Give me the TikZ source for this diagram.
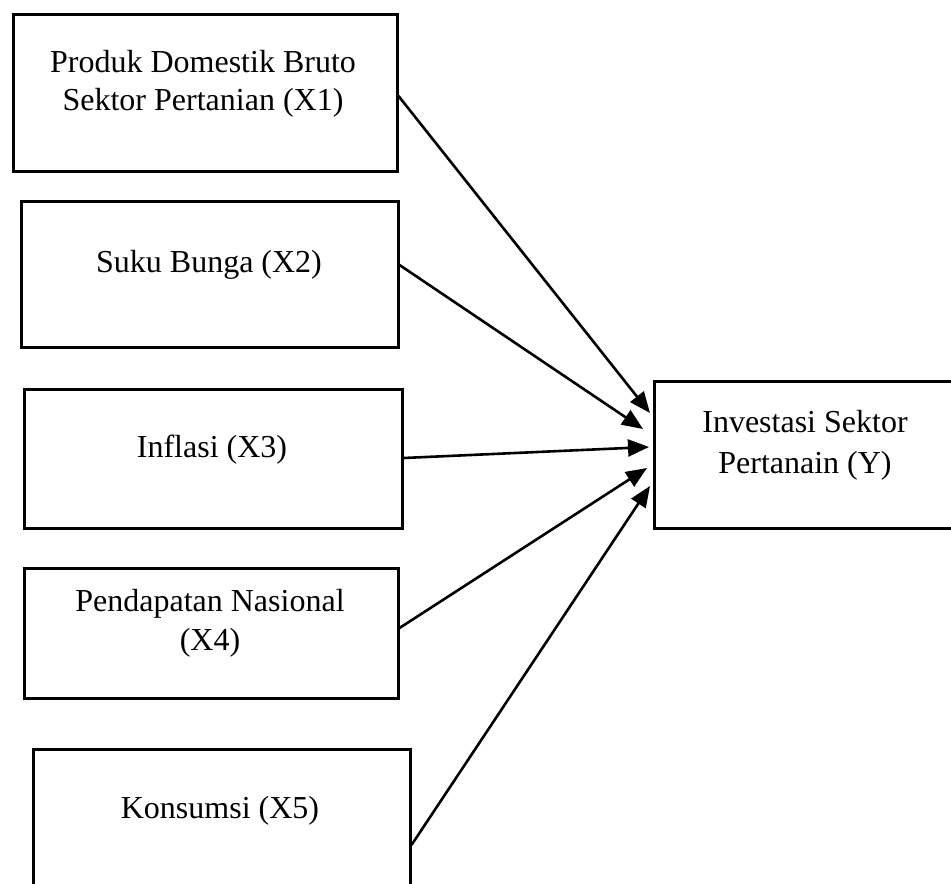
\documentclass[tikz,border=0pt]{standalone}
\usepackage{fontspec}
\setmainfont{Liberation Serif}
\usetikzlibrary{arrows.meta,calc}
\begin{document}
\begin{tikzpicture}[x=1pt,y=-1pt,
  box/.style={draw=black,line width=2.5pt,rectangle,inner sep=0pt,anchor=north west},
  lbl/.style={font=\fontsize{32}{39}\selectfont,anchor=base,inner sep=0pt},
  arr/.style={line width=2.6pt,-{Triangle[length=21pt,width=17pt]}}]
\useasboundingbox (0,0) rectangle (951,884);
\clip (0,0) rectangle (951,884);
\fill[white] (0,0) rectangle (951,884);
% boxes
\node[box,minimum width=384pt,minimum height=157pt] (b1) at (12,13) {};
\node[box,minimum width=377pt,minimum height=146pt] (b2) at (20,200) {};
\node[box,minimum width=378pt,minimum height=139pt] (b3) at (23,388) {};
\node[box,minimum width=374pt,minimum height=130pt] (b4) at (23,567) {};
\node[box,minimum width=377pt,minimum height=160pt] (b5) at (32,748) {};
\node[box,minimum width=320pt,minimum height=147pt] (y) at (653,380) {};
% texts
\node[lbl] (t1a) at (203,72) {Produk Domestik Bruto};
\node[lbl] (t1b) at (203,110) {Sektor Pertanian (X1)};
\node[lbl] (t2) at (209,272) {Suku Bunga (X2)};
\node[lbl] (t3) at (212,457) {Inflasi (X3)};
\node[lbl] (t4a) at (210,611) {Pendapatan Nasional};
\node[lbl] (t4b) at (210,650) {(X4)};
\node[lbl] (t5) at (220,818) {Konsumsi (X5)};
\node[lbl] (ya) at (805,432) {Investasi Sektor};
\node[lbl] (yb) at (805,473) {Pertanain (Y)};
% connector ends
\coordinate (s1) at ($(b1.north east)+(0,83)$);
\coordinate (s2) at ($(b2.north east)+(0,65)$);
\coordinate (s3) at ($(b3.north east)+(0,70)$);
\coordinate (s4) at ($(b4.north east)+(0,61)$);
\coordinate (s5) at ($(b5.north east)+(0,97)$);
\coordinate (e1) at ($(y.north west)+(-3,33)$);
\coordinate (e2) at ($(y.north west)+(-10,49)$);
\coordinate (e3) at ($(y.north west)+(-4,67)$);
\coordinate (e4) at ($(y.north west)+(-6,88)$);
\coordinate (e5) at ($(y.north west)+(-3,106)$);
\draw[arr] (s1) -- (e1);
\draw[arr] (s2) -- (e2);
\draw[arr] (s3) -- (e3);
\draw[arr] (s4) -- (e4);
\draw[arr] (s5) -- (e5);
\end{tikzpicture}
\end{document}
